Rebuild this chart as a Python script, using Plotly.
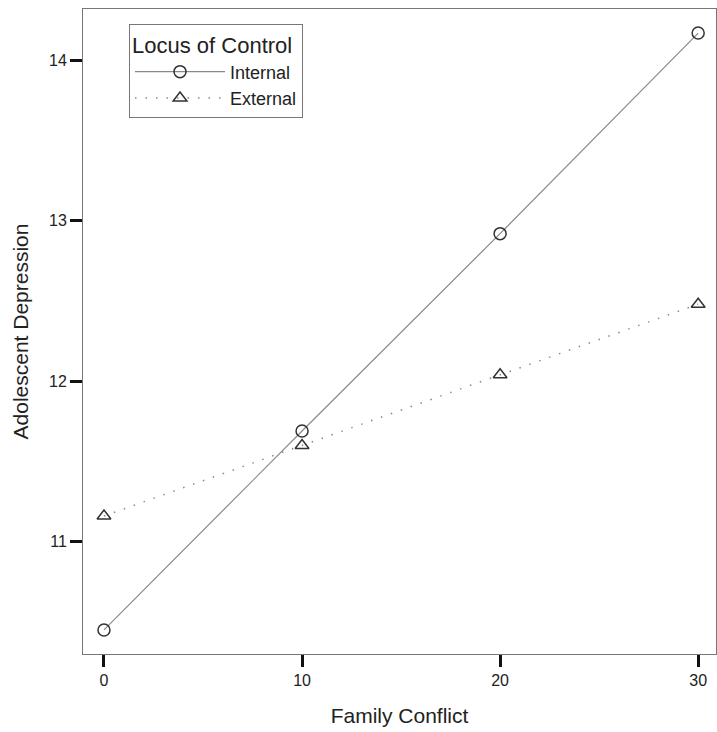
import plotly.graph_objects as go

family_conflict = [0, 10, 20, 30]
internal = [10.45, 11.69, 12.92, 14.17]
external = [11.16, 11.60, 12.04, 12.48]
x_ticks = [0, 10, 20, 30]
y_ticks = [11, 12, 13, 14]

FONT = "Liberation Sans, Arial, sans-serif"
fig = go.Figure()
fig.add_trace(go.Scatter(
    x=family_conflict, y=internal, name="Internal", mode="lines+markers",
    line=dict(color="#8a8a8a", width=1.2),
    marker=dict(symbol="circle-open", size=12, color="#333333", line=dict(width=1.5)),
))
fig.add_trace(go.Scatter(
    x=family_conflict, y=external, name="External", mode="lines+markers",
    line=dict(color="#8a8a8a", width=1.5, dash="1.5px,9px"),
    marker=dict(symbol="triangle-up-open", size=12, color="#333333", line=dict(width=1.5)),
))

axis_common = dict(
    showline=True, mirror=True, linecolor="#777777", linewidth=1,
    ticks="outside", ticklen=12, tickwidth=3, tickcolor="#111111",
    showgrid=False, zeroline=False,
    tickfont=dict(family=FONT, size=16, color="#222222"),
)
fig.update_xaxes(range=[-1.06, 30.9], tickvals=x_ticks,
                 title=dict(text="Family Conflict", font=dict(family=FONT, size=21, color="#222222"), standoff=20),
                 **axis_common)
fig.update_yaxes(range=[10.30, 14.32], tickvals=y_ticks,
                 title=dict(text="Adolescent Depression", font=dict(family=FONT, size=21, color="#222222"), standoff=14),
                 **axis_common)

fig.update_layout(
    width=717, height=732,
    margin=dict(l=83, r=1, t=9, b=78),
    paper_bgcolor="white", plot_bgcolor="white",
    font=dict(family=FONT, color="#222222"),
    legend=dict(
        title=dict(text="Locus of Control", font=dict(family=FONT, size=22, color="#222222")),
        font=dict(family=FONT, size=18, color="#222222"),
        x=0.0727, y=0.977, xanchor="left", yanchor="top",
        bordercolor="#777777", borderwidth=1, bgcolor="white",
        tracegroupgap=0, itemwidth=90,
    ),
)
fig.write_html("out.html")
